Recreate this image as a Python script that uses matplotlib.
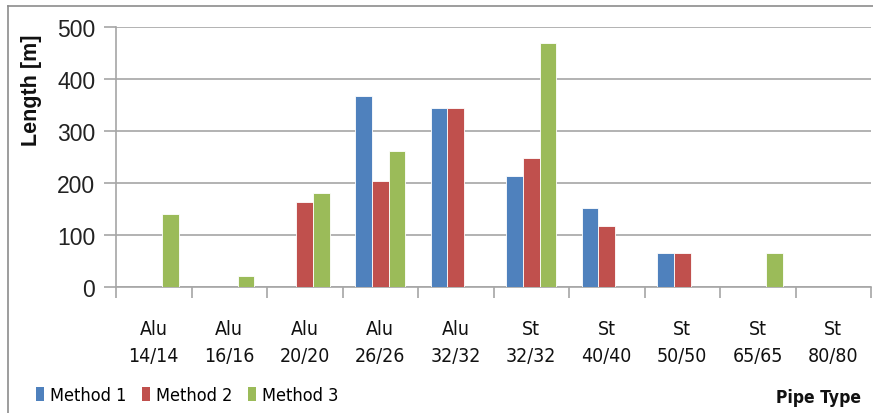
import matplotlib
matplotlib.use("Agg")
import matplotlib.pyplot as plt
import numpy as np
from matplotlib.lines import Line2D
from matplotlib.patches import Patch

categories = ["Alu\n14/14", "Alu\n16/16", "Alu\n20/20", "Alu\n26/26", "Alu\n32/32",
              "St\n32/32", "St\n40/40", "St\n50/50", "St\n65/65", "St\n80/80"]
method1 = [0, 0, 0, 368, 344, 214, 152, 66, 0, 0]
method2 = [0, 0, 163, 204, 344, 249, 118, 66, 0, 0]
method3 = [140, 22, 180, 261, 0, 469, 0, 0, 66, 0]
series_names = ["Method 1", "Method 2", "Method 3"]
colors = ["#4F81BD", "#C0504D", "#9BBB59"]
yticks = [0, 100, 200, 300, 400, 500]

W, H = 873, 414
fig = plt.figure(figsize=(W / 100, H / 100), dpi=100)
fig.patch.set_facecolor("white")

ax = fig.add_axes([116 / W, 1 - 288 / H, (871 - 116) / W, (288 - 28) / H])

regular = ["Liberation Sans", "DejaVu Sans"]

x = np.arange(len(categories))
bw = 0.22
for i, (vals, c) in enumerate(zip([method1, method2, method3], colors)):
    ax.bar(x + (i - 1) * bw, vals, width=bw, color=c, edgecolor="white",
           linewidth=0.6, zorder=3)

ax.set_xlim(-0.5, len(categories) - 0.5)
ax.set_ylim(0, 500)
ax.set_yticks(yticks)
ax.set_yticklabels([str(v) for v in yticks], fontfamily=regular, fontsize=16.5, color="#222222")
ax.yaxis.grid(True, color="#A6A6A6", linewidth=1.2, zorder=0)
ax.tick_params(axis="y", length=9, width=1.2, color="#A6A6A6", pad=6)

# category boundary ticks on the x axis, labels at centres
ax.set_xticks(np.arange(len(categories) + 1) - 0.5)
ax.set_xticklabels([])
ax.tick_params(axis="x", which="major", length=8, width=1.2, color="#A6A6A6", direction="out")
ax.set_xticks(x, minor=True)
ax.set_xticklabels(categories, minor=True, fontfamily="DejaVu Sans", fontstretch="condensed",
                   fontsize=14, color="#111111", linespacing=1.55)
ax.tick_params(axis="x", which="minor", length=0, pad=23)

for s in ["top", "right"]:
    ax.spines[s].set_visible(False)
ax.spines["left"].set_color("#A6A6A6")
ax.spines["bottom"].set_color("#A6A6A6")
ax.spines["left"].set_linewidth(1.2)
ax.spines["bottom"].set_linewidth(1.2)

fig.text(31 / W, 1 - 90 / H, "Length [m]", rotation=90, ha="center", va="center",
         fontfamily=regular, fontsize=15.5, fontweight="bold", color="#111111")
fig.text(861 / W, 1 - 398 / H, "Pipe Type", ha="right", va="center",
         fontfamily="DejaVu Sans", fontstretch="condensed", fontsize=12.5,
         fontweight="bold", color="#111111")

handles = [Patch(facecolor=c, edgecolor="none") for c in colors]
fig.legend(handles, series_names, loc="center left", bbox_to_anchor=(36 / W, 1 - 396 / H),
           ncol=3, frameon=False,
           prop={"family": "DejaVu Sans", "stretch": "condensed", "size": 13},
           handlelength=0.45, handleheight=0.85, handletextpad=0.3, columnspacing=0.9,
           borderaxespad=0, borderpad=0)

# chart frame
fig.add_artist(Line2D([8 / W, 8 / W], [0, 1 - 7 / H], transform=fig.transFigure,
                      color="#8C8C8C", linewidth=1.2))
fig.add_artist(Line2D([8 / W, 1], [1 - 7 / H, 1 - 7 / H], transform=fig.transFigure,
                      color="#8C8C8C", linewidth=1.2))

fig.savefig("out.png", dpi=100)
